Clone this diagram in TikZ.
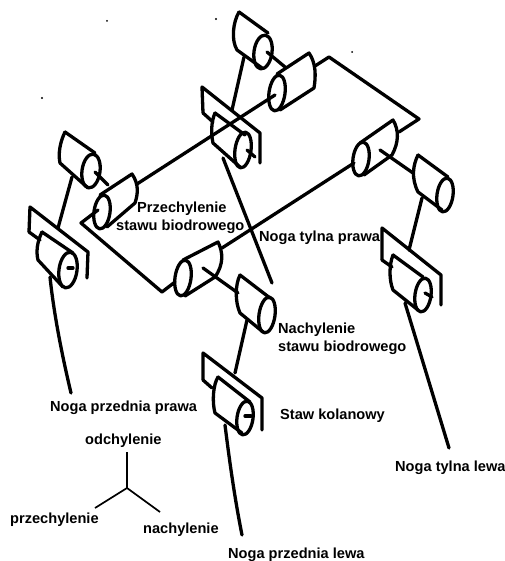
\documentclass[tikz,border=0pt]{standalone}
\usepackage{fontspec}
\setmainfont{Liberation Sans}
\tikzset{
  bar/.style={line width=3.3pt,line cap=round,line join=round},
  axis/.style={line width=1.7pt},
  lbl/.style={font=\bfseries\fontsize{14.6}{18}\selectfont,inner sep=0pt,align=left}
}
\begin{document}
\begin{tikzpicture}[x=1pt,y=-1pt]
\useasboundingbox (0,0) rectangle (504,561);
\draw[bar] (137,184) -- (275,95);
\draw[bar] (315,66) -- (329,57) -- (419,119) -- (399,132);
\draw[bar] (354,163) -- (222,248);
\draw[bar] (175,282) -- (162,292) -- (81,223) -- (98,210);
\draw[bar] (100,195) -- (132,174) .. controls (139,184) and (138,194) .. (135,203) -- (107,227);
\draw[bar,rotate around={-8:(102,212)}] (102,212) ellipse (8 and 17);
\draw[bar] (277,74) -- (309,53) .. controls (316,63) and (316,76) .. (314,88) -- (280,110);
\draw[bar,rotate around={-8:(277,93)}] (277,93) ellipse (8 and 18);
\draw[bar] (360,143) -- (393,120) .. controls (399,130) and (399,142) .. (392,155) -- (364,175);
\draw[bar,rotate around={-8:(361,159)}] (361,159) ellipse (8 and 17);
\draw[bar] (183,260) -- (218,242) .. controls (223,252) and (224,264) .. (215,277) -- (185,296);
\draw[bar,rotate around={-8:(183,278)}] (183,278) ellipse (8 and 18);
\draw[bar] (65,132) -- (95,153);
\draw[bar] (65,132) .. controls (60,142) and (58,154) .. (60,163) -- (88,188);
\draw[bar,rotate around={-8:(91,171)}] (91,171) ellipse (9 and 17);
\draw[bar] (95,172) -- (108,185);
\draw[bar] (72,177) -- (58,228);
\draw[bar] (29,232) -- (30,207) -- (88,252) -- (87,278);
\draw[bar] (29,232) -- (40,240);
\draw[bar] (42,232) -- (73,253);
\draw[bar] (42,232) .. controls (37,242) and (36,252) .. (38,260) -- (63,287);
\draw[bar,rotate around={-8:(68,270)}] (68,270) ellipse (9 and 18);
\draw[bar] (68,268) -- (73,268);
\draw[bar] (50,277) .. controls (54,315) and (62,355) .. (71,393);
\draw[bar] (239,12) -- (268,33);
\draw[bar] (239,12) .. controls (233,22) and (231,40) .. (237,50) -- (262,68);
\draw[bar,rotate around={-8:(263,52)}] (263,52) ellipse (9 and 17);
\draw[bar] (267,52) -- (285,67);
\draw[bar] (244,57) -- (232,110);
\draw[bar] (203,113) -- (202,87) -- (260,133) -- (260,163);
\draw[bar] (203,113) -- (213,122);
\draw[bar] (215,113) -- (245,135);
\draw[bar] (215,113) .. controls (211,122) and (211,134) .. (213,143) -- (240,167);
\draw[bar,rotate around={-8:(243,150)}] (243,150) ellipse (8 and 18);
\draw[bar] (247,150) -- (255,157);
\draw[bar] (223,158) -- (272,283);
\draw[bar] (240,275) -- (270,298);
\draw[bar] (240,275) .. controls (235,285) and (235,302) .. (240,313) -- (263,332);
\draw[bar,rotate around={-8:(267,315)}] (267,315) ellipse (8 and 18);
\draw[bar] (203,268) -- (238,293);
\draw[bar] (247,320) -- (235,373);
\draw[bar] (203,380) -- (203,353) -- (262,398) -- (262,430);
\draw[bar] (203,380) -- (212,388);
\draw[bar] (218,377) -- (250,402);
\draw[bar] (218,377) .. controls (213,385) and (212,402) .. (215,413) -- (242,433);
\draw[bar,rotate around={-8:(245,418)}] (245,418) ellipse (8 and 17);
\draw[bar] (245,416) -- (251,416);
\draw[bar] (225,425) .. controls (230,465) and (235,500) .. (242,535);
\draw[bar] (380,150) -- (413,173);
\draw[bar] (418,155) -- (448,177);
\draw[bar] (418,155) .. controls (413,165) and (411,178) .. (418,192) -- (442,210);
\draw[bar,rotate around={-8:(445,195)}] (445,195) ellipse (8 and 17);
\draw[bar] (422,198) -- (409,250);
\draw[bar] (382,260) -- (382,228) -- (441,275) -- (441,305);
\draw[bar] (382,260) -- (392,267);
\draw[bar] (393,255) -- (423,277);
\draw[bar] (393,255) .. controls (389,265) and (389,280) .. (393,290) -- (418,310);
\draw[bar,rotate around={-8:(423,295)}] (423,295) ellipse (8 and 17);
\draw[bar] (425,293) -- (432,297);
\draw[bar] (405,303) -- (449,448);
\coordinate (axo) at (127,488);
\coordinate (axup) at (127,452);
\coordinate (axleft) at (95,508);
\coordinate (axright) at (160,512);
\draw[axis] (axo) -- (axup);
\draw[axis] (axo) -- (axleft);
\draw[axis] (axo) -- (axright);
\node[lbl,anchor=west] (przechbiod) at (116,218) {\hspace*{21pt}Przechylenie\\stawu biodrowego};
\node[lbl,anchor=west] (tylnaprawa) at (259,238) {Noga tylna prawa};
\node[lbl,anchor=west] (nachbiod) at (278,339) {Nachylenie\\stawu biodrowego};
\node[lbl,anchor=west] (kolano) at (280,416) {Staw kolanowy};
\node[lbl,anchor=west] (tylnalewa) at (395,468) {Noga tylna lewa};
\node[lbl,anchor=west] (przedlewa) at (228,555) {Noga przednia lewa};
\node[lbl,anchor=west] (przedprawa) at (50,408) {Noga przednia prawa};
\node[lbl,anchor=west] (odch) at (85,441) {odchylenie};
\node[lbl,anchor=west] (przech) at (10,520) {przechylenie};
\node[lbl,anchor=west] (nach) at (143,530) {nachylenie};
\fill (107,21) circle (1);
\fill (42,98) circle (1.2);
\fill (216,19) circle (1.2);
\fill (352,52) circle (1);
\end{tikzpicture}
\end{document}
